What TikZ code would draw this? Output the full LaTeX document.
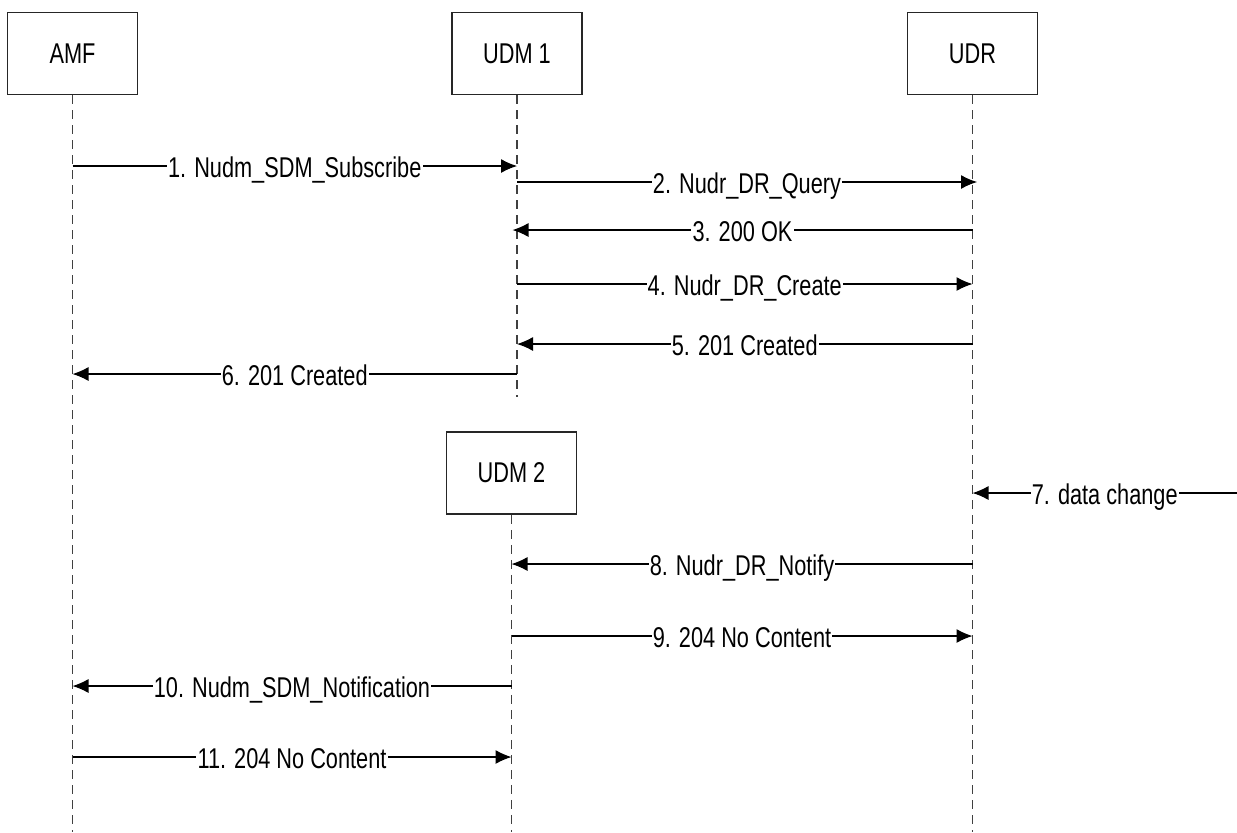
\documentclass[tikz,border=0pt]{standalone}
\usepackage{fontspec}
\setmainfont[FakeStretch=0.76]{Liberation Sans}
\usetikzlibrary{arrows.meta}
\begin{document}
\begin{tikzpicture}[x=0.5pt,y=-0.5pt,
  font=\fontsize{14.3pt}{17pt}\selectfont,
  entity/.style={draw=black!85, line width=0.75pt, minimum width=65pt, minimum height=41pt, inner sep=0pt, fill=white},
  life/.style={draw=black!75, line width=0.55pt, dash pattern=on 4.5pt off 3pt},
  msg/.style={draw=black, line width=0.55pt, -{Latex[length=8pt,width=7pt]}},
  lbl/.style={fill=white, inner sep=0.6pt, text height=10.2pt, text depth=0pt, anchor=center, yshift=-0.5pt}]
\useasboundingbox (0,0) rectangle (1237,832);
% entities
\node[entity] (amf) at (72.5,53.5) {AMF};
\node[entity] (udm1) at (517,53.5) {UDM 1};
\node[entity] (udr) at (972.5,53.5) {UDR};
\node[entity] (udm2) at (511.5,473) {UDM 2};
% lifeline ends
\coordinate (amfend) at (72.5,832);
\coordinate (udm1end) at (517,397);
\coordinate (udrend) at (972.5,832);
\coordinate (udm2end) at (511.5,832);
\draw[life] (amf.south) -- (amfend);
\draw[life] (udm1.south) -- (udm1end);
\draw[life] (udr.south) -- (udrend);
\draw[life] (udm2.south) -- (udm2end);
% message end points
\coordinate (a1) at (72.5,166);  \coordinate (u1) at (517,166);
\coordinate (u2) at (517,182);   \coordinate (r2) at (977,182);
\coordinate (r3) at (972.5,230); \coordinate (u3) at (512.5,230);
\coordinate (u4) at (517,284);   \coordinate (r4) at (972.5,284);
\coordinate (r5) at (972.5,344); \coordinate (u5) at (517,344);
\coordinate (u6) at (517,374);   \coordinate (a6) at (72.5,374);
\coordinate (x7) at (1237,493);  \coordinate (r7) at (972.5,493);
\coordinate (r8) at (972.5,564); \coordinate (v8) at (511.5,564);
\coordinate (v9) at (511.5,636); \coordinate (r9) at (972.5,636);
\coordinate (v10) at (511.5,686); \coordinate (a10) at (72.5,686);
\coordinate (a11) at (72.5,757); \coordinate (v11) at (511.5,757);
% messages
\draw[msg] (a1) -- node[lbl]{1. Nudm\_SDM\_Subscribe} (u1);
\draw[msg] (u2) -- node[lbl]{2. Nudr\_DR\_Query} (r2);
\draw[msg] (r3) -- node[lbl]{3. 200 OK} (u3);
\draw[msg] (u4) -- node[lbl]{4. Nudr\_DR\_Create} (r4);
\draw[msg] (r5) -- node[lbl]{5. 201 Created} (u5);
\draw[msg] (u6) -- node[lbl]{6. 201 Created} (a6);
\draw[msg] (x7) -- node[lbl]{7. data change} (r7);
\draw[msg] (r8) -- node[lbl]{8. Nudr\_DR\_Notify} (v8);
\draw[msg] (v9) -- node[lbl]{9. 204 No Content} (r9);
\draw[msg] (v10) -- node[lbl]{10. Nudm\_SDM\_Notification} (a10);
\draw[msg] (a11) -- node[lbl]{11. 204 No Content} (v11);
\end{tikzpicture}
\end{document}
